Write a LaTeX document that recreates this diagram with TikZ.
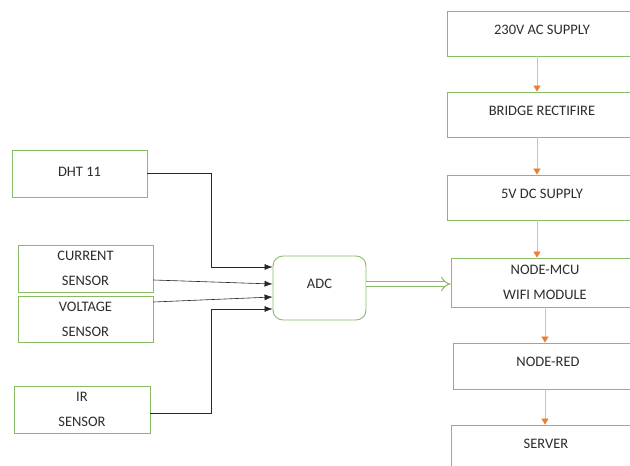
\documentclass[tikz,border=0pt]{standalone}
\usepackage{fontspec}
\setmainfont{Carlito}
\usepackage{tikz}
\usetikzlibrary{arrows.meta}

\definecolor{boxgreen}{RGB}{135,188,100}
\definecolor{flowor}{RGB}{237,125,49}
\definecolor{txtgray}{RGB}{45,45,45}

\begin{document}
\begin{tikzpicture}[x=1pt, y=-1pt,
  blk/.style={draw=boxgreen, line width=0.9pt, rectangle, fill=white, text=txtgray, align=center,
    font=\fontsize{14.5}{25}\selectfont},
  oneblk/.style={blk, text depth=8pt},
  sig/.style={draw=black!85, line width=0.6pt, -{Latex[length=8pt,width=6pt]}},
  flow/.style={draw=flowor!55, line width=0.8pt, -{Triangle[length=6pt,width=7pt,color=flowor,fill=flowor]}},
  dbl/.style={draw=boxgreen, double=white, double distance=4pt, line width=1pt, -Implies}]
\clip (0,0) rectangle (630,466);
\fill[white] (0,0) rectangle (630,466);

\node[blk, minimum width=135, minimum height=47, text depth=4pt] (dht) at (79.5,173.5) {DHT 11};
\node[blk, minimum width=135, minimum height=47] (cur) at (85.5,268.5) {CURRENT\\SENSOR};
\node[blk, minimum width=135, minimum height=46] (vol) at (85.5,319) {VOLTAGE\\SENSOR};
\node[blk, minimum width=136, minimum height=47] (ir) at (82,409.5) {IR\\SENSOR};
\node[blk, rounded corners=10pt, minimum width=93, minimum height=64, text depth=8pt] (adc) at (319.5,288) {ADC};

\node[oneblk, minimum width=190, minimum height=45] (ac) at (542,33.5) {230V AC SUPPLY};
\node[oneblk, minimum width=190, minimum height=45] (br) at (542,114.5) {BRIDGE RECTIFIRE};
\node[oneblk, minimum width=190, minimum height=45] (dc) at (542,197.5) {5V DC SUPPLY};
\node[blk, minimum width=188, minimum height=49] (mcu) at (545,282.5) {NODE-MCU\\WIFI MODULE};
\node[oneblk, minimum width=190, minimum height=46] (red) at (548,366) {NODE-RED};
\node[oneblk, minimum width=190, minimum height=46] (srv) at (546,448) {SERVER};

\draw[sig] (dht.east) -- ++(64,0) |- ([yshift=21pt]adc.west);
\draw[sig] ([yshift=-11.5pt]cur.east) -- ([yshift=4pt]adc.west);
\draw[sig] ([yshift=17pt]vol.east) -- ([yshift=-9pt]adc.west);
\draw[sig] ([yshift=-3.5pt]ir.east) -- ++(61,0) |- ([yshift=-21pt]adc.west);

\draw[dbl] ([yshift=4pt]adc.east) -- ([yshift=-1.5pt]mcu.west);

\draw[flow] ([xshift=-5pt]ac.south) -- ([xshift=-5pt]br.north);
\draw[flow] ([xshift=-5pt]br.south) -- ([xshift=-5pt]dc.north);
\draw[flow] ([xshift=-5pt]dc.south) -- ([xshift=-8pt]mcu.north);
\draw[flow] (mcu.south) -- ([xshift=-3pt]red.north);
\draw[flow] ([xshift=-3pt]red.south) -- ([xshift=-1pt]srv.north);
\end{tikzpicture}
\end{document}
